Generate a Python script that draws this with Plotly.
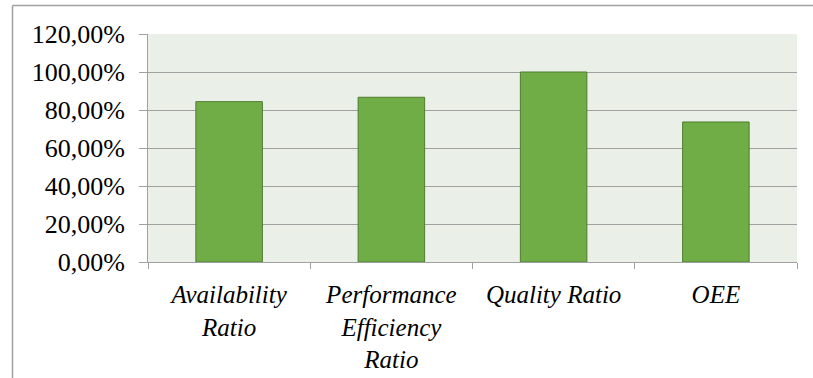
import plotly.graph_objects as go

categories = ["Availability<br>Ratio", "Performance<br>Efficiency<br>Ratio", "Quality Ratio", "OEE"]
values = [0.844, 0.867, 1.0, 0.737]
tick_vals = [0, 0.2, 0.4, 0.6, 0.8, 1.0, 1.2]
tick_text = ["0,00%", "20,00%", "40,00%", "60,00%", "80,00%", "100,00%", "120,00%"]

W, H = 813, 378
L, R, T, B = 148, 16, 34, 116
SERIF = "Times"
GRID = "#A0A0A0"

fig = go.Figure(go.Bar(
    x=categories, y=values,
    marker=dict(color="#70AD47", line=dict(color="#4E7D30", width=1)),
))

fig.update_layout(
    width=W, height=H,
    margin=dict(l=L, r=R, t=T, b=B),
    paper_bgcolor="white",
    plot_bgcolor="#EAEFE7",
    bargap=0.59,
    showlegend=False,
    font=dict(family=SERIF, size=25, color="black"),
)
fig.update_yaxes(
    range=[0, 1.2], tickvals=tick_vals, ticktext=tick_text,
    showgrid=True, gridcolor=GRID, gridwidth=1,
    showline=True, linecolor=GRID, linewidth=1,
    ticks="outside", ticklen=8, tickcolor=GRID,
    tickfont=dict(family=SERIF, size=26),
    ticklabelstandoff=9, zeroline=False, automargin=False,
)
fig.update_xaxes(
    showline=True, linecolor=GRID, linewidth=1,
    ticks="outside", ticklen=6, tickcolor=GRID, tickson="boundaries",
    tickfont=dict(family=SERIF, size=25, style="italic"),
    ticklabelstandoff=10, tickangle=0, showgrid=False, automargin=False,
)

# outer chart border (top and left edges)
pw = W - L - R
ph = H - T - B
def px_x(x):
    return (x - L) / pw
def px_y(y):
    return (H - B - y) / ph
fig.add_shape(type="line", xref="paper", yref="paper",
              x0=px_x(12.5), x1=px_x(813), y0=px_y(5.5), y1=px_y(5.5),
              line=dict(color=GRID, width=1.5))
fig.add_shape(type="line", xref="paper", yref="paper",
              x0=px_x(12.5), x1=px_x(12.5), y0=px_y(5.5), y1=px_y(380),
              line=dict(color=GRID, width=1.5))

fig.write_html("out.html")
